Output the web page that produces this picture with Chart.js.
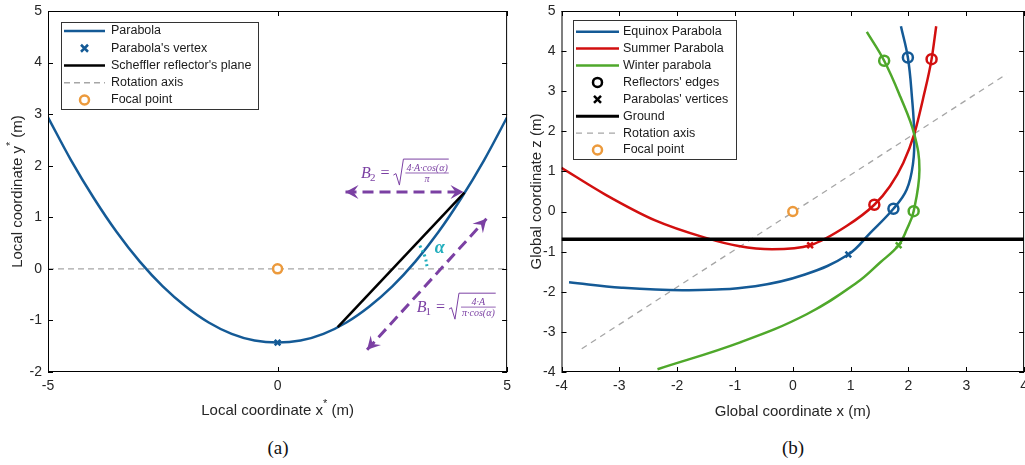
<!DOCTYPE html>
<html>
<head>
<meta charset="utf-8">
<script src="https://cdn.jsdelivr.net/npm/chart.js@4.4.1/dist/chart.umd.min.js"></script>
<style>
  html, body { margin: 0; padding: 0; background: #fff; }
  #wrap { position: relative; width: 1025px; height: 465px; overflow: hidden; }
  canvas { position: absolute; top: 0; }
  #chartA { left: 0; }
  #chartB { left: 512px; }
  .cap { position: absolute; top: 437px; line-height: 22px; font: 19px "Liberation Serif", serif; color: #111; transform: translateX(-50%); }
</style>
</head>
<body>
<div id="wrap">
  <canvas id="chartA" width="517" height="425"></canvas>
  <canvas id="chartB" width="522" height="425"></canvas>
  <div class="cap" style="left:278px">(a)</div>
  <div class="cap" style="left:793px">(b)</div>
</div>
<script>
// ---- panel (a): local frame ----
const parabolaX = [-5, -4.5, -4, -3.5, -3, -2.5, -2, -1.5, -1, -0.5, 0, 0.5, 1, 1.5, 2, 2.5, 3, 3.5, 4, 4.5, 5];
const parabolaY = [2.94, 2.11, 1.37, 0.71, 0.14, -0.34, -0.73, -1.04, -1.26, -1.39, -1.43, -1.39, -1.26, -1.04, -0.73, -0.34, 0.14, 0.71, 1.37, 2.11, 2.94];
const vertexA = [0, -1.43];
const focalA = [0, 0];
const planeX = [1.31, 4.07];
const planeY = [-1.13, 1.48];
const axisAX = [-5, 5];
const axisAY = [0, 0];
const b2ArrowX = [1.48, 4.05];
const b2ArrowY = [1.49, 1.49];
const b1ArrowX = [1.95, 4.55];
const b1ArrowY = [-1.57, 0.97];
const alphaArcX = [3.1, 3.21, 3.26];
const alphaArcY = [0.45, 0.24, 0.03];
const ticksAX = [-5, 0, 5];
const ticksAY = [-2, -1, 0, 1, 2, 3, 4, 5];

// ---- panel (b): global frame ----
const equinoxX = [-3.87, -2.96, -1.81, -0.65, 0.21, 0.96, 1.34, 1.74, 1.97, 2.08, 2.10, 2.06, 1.99, 1.87];
const equinoxZ = [-1.76, -1.90, -1.96, -1.86, -1.57, -1.07, -0.53, 0.07, 0.55, 1.21, 1.93, 2.86, 3.84, 4.62];
const summerX = [-4.0, -3.25, -2.38, -1.52, -0.94, -0.36, 0.30, 0.93, 1.41, 1.68, 1.91, 2.10, 2.26, 2.40, 2.48];
const summerZ = [1.09, 0.43, -0.22, -0.65, -0.86, -0.94, -0.84, -0.36, 0.17, 0.63, 1.21, 1.93, 2.86, 3.80, 4.62];
const winterX = [-2.34, -0.91, 0.24, 1.11, 1.51, 1.83, 1.97, 2.09, 2.19, 2.10, 1.86, 1.58, 1.28];
const winterZ = [-3.93, -3.26, -2.56, -1.77, -1.27, -0.84, -0.45, 0.01, 1.04, 1.93, 2.86, 3.76, 4.48];
const edgesEquinox = [[1.99, 3.84], [1.74, 0.07]];
const edgesSummer = [[2.40, 3.80], [1.41, 0.17]];
const edgesWinter = [[1.58, 3.76], [2.09, 0.01]];
const vertexEquinox = [0.96, -1.07];
const vertexSummer = [0.30, -0.84];
const vertexWinter = [1.83, -0.84];
const groundX = [-4, 4];
const groundZ = [-0.69, -0.69];
const axisBX = [-3.65, 3.7];
const axisBZ = [-3.42, 3.43];
const focalB = [0, 0];
const ticksBX = [-4, -3, -2, -1, 0, 1, 2, 3, 4];
const ticksBZ = [-4, -3, -2, -1, 0, 1, 2, 3, 4, 5];

const BLUE = '#145a96', RED = '#d20f0f', GREEN = '#4fa82b', ORANGE = '#ec9a3c';
const PURPLE = '#7b40a3', TEAL = '#21aebd', GRAY = '#a6a6a6', INK = '#262626';
const SANS = '"Liberation Sans", Arial, sans-serif';
const SERIF = '"Liberation Serif", serif';

function pts(xs, ys) { return xs.map((x, i) => ({ x: x, y: ys[i] })); }
function pt(p) { return [{ x: p[0], y: p[1] }]; }

function curve(data, color, width, extra) {
  return Object.assign({ data: data, showLine: true, borderColor: color, borderWidth: width, pointRadius: 0, tension: 0 }, extra || {});
}
function marker(data, color, style, radius, fill) {
  return { data: data, showLine: false, pointStyle: style, pointRadius: radius, pointBorderWidth: 2.5,
           pointBorderColor: color, pointBackgroundColor: fill || 'rgba(0,0,0,0)' };
}

// draw text made of parts, some as superscripts, centred at (cx, cy)
function drawRich(ctx, parts, cx, cy, size) {
  const big = size + 'px ' + SANS, small = Math.round(size * 0.7) + 'px ' + SANS;
  let w = 0;
  parts.forEach(p => { ctx.font = p[1] ? small : big; w += ctx.measureText(p[0]).width; });
  let x = cx - w / 2;
  ctx.textBaseline = 'middle';
  ctx.textAlign = 'left';
  parts.forEach(p => {
    ctx.font = p[1] ? small : big;
    ctx.fillText(p[0], x, p[1] ? cy - size * 0.5 : cy);
    x += ctx.measureText(p[0]).width;
  });
}

// axis box with inward ticks, axis titles and the legend
const framePlugin = {
  id: 'frame',
  afterDraw(chart, args, o) {
    const ctx = chart.ctx, a = chart.chartArea, sx = chart.scales.x, sy = chart.scales.y;
    ctx.save();
    ctx.strokeStyle = '#000';
    ctx.lineWidth = 1;
    ctx.strokeRect(a.left + 0.5, a.top + 0.5, a.right - a.left - 1, a.bottom - a.top - 1);
    ctx.beginPath();
    sx.ticks.forEach(t => {
      const p = Math.round(sx.getPixelForValue(t.value)) + 0.5;
      ctx.moveTo(p, a.bottom); ctx.lineTo(p, a.bottom - 5);
      ctx.moveTo(p, a.top); ctx.lineTo(p, a.top + 5);
    });
    sy.ticks.forEach(t => {
      const p = Math.round(sy.getPixelForValue(t.value)) + 0.5;
      ctx.moveTo(a.left, p); ctx.lineTo(a.left + 5, p);
      ctx.moveTo(a.right, p); ctx.lineTo(a.right - 5, p);
    });
    ctx.stroke();

    ctx.fillStyle = INK;
    drawRich(ctx, o.xTitle, (a.left + a.right) / 2, o.xTitleY, 15);
    ctx.save();
    ctx.translate(o.yTitleX, (a.top + a.bottom) / 2);
    ctx.rotate(-Math.PI / 2);
    drawRich(ctx, o.yTitle, 0, 0, 15);
    ctx.restore();

    const L = o.legend;
    ctx.fillStyle = '#fff';
    ctx.fillRect(L.left, L.top, L.right - L.left, L.bottom - L.top);
    ctx.strokeStyle = '#333';
    ctx.lineWidth = 1;
    ctx.strokeRect(L.left + 0.5, L.top + 0.5, L.right - L.left, L.bottom - L.top);
    L.items.forEach((it, i) => {
      const yy = L.rowTop + i * L.rowGap, mid = (L.sx0 + L.sx1) / 2;
      ctx.strokeStyle = it.color;
      if (it.kind === 'line') {
        ctx.lineWidth = it.width;
        ctx.setLineDash(it.dash || []);
        ctx.beginPath(); ctx.moveTo(L.sx0, yy); ctx.lineTo(L.sx1, yy); ctx.stroke();
        ctx.setLineDash([]);
      } else if (it.kind === 'cross') {
        ctx.lineWidth = 2.5;
        ctx.beginPath();
        ctx.moveTo(mid - 3.5, yy - 3.5); ctx.lineTo(mid + 3.5, yy + 3.5);
        ctx.moveTo(mid + 3.5, yy - 3.5); ctx.lineTo(mid - 3.5, yy + 3.5);
        ctx.stroke();
      } else {
        ctx.lineWidth = 2.5;
        ctx.beginPath(); ctx.arc(mid, yy, 4.5, 0, Math.PI * 2); ctx.stroke();
      }
      ctx.fillStyle = '#1a1a1a';
      ctx.font = '12.5px ' + SANS;
      ctx.textAlign = 'left';
      ctx.textBaseline = 'middle';
      ctx.fillText(it.label, L.tx, yy);
    });
    ctx.restore();
  }
};

function arrowHead(ctx, tx, ty, fx, fy) {
  const ang = Math.atan2(ty - fy, tx - fx), c = Math.cos(ang), s = Math.sin(ang);
  const L = 13, W = 7, N = 8;
  ctx.beginPath();
  ctx.moveTo(tx, ty);
  ctx.lineTo(tx - L * c - W * s, ty - L * s + W * c);
  ctx.lineTo(tx - N * c, ty - N * s);
  ctx.lineTo(tx - L * c + W * s, ty - L * s - W * c);
  ctx.closePath();
  ctx.fill();
}

function drawRadical(ctx, x, base, sub, num, den) {
  ctx.textAlign = 'left';
  ctx.textBaseline = 'alphabetic';
  ctx.font = 'italic 16px ' + SERIF;
  ctx.fillText('B', x, base);
  let cx = x + ctx.measureText('B').width;
  ctx.font = '11px ' + SERIF;
  ctx.fillText(sub, cx - 1, base + 3);
  cx += ctx.measureText(sub).width + 4;
  ctx.font = '16px ' + SERIF;
  ctx.fillText('=', cx, base);
  cx += ctx.measureText('=').width + 4;
  ctx.font = 'italic 10px ' + SERIF;
  const w = Math.max(ctx.measureText(num).width, ctx.measureText(den).width) + 2;
  const top = base - 19, bot = base + 7;
  ctx.lineWidth = 1;
  ctx.beginPath();
  ctx.moveTo(cx, base - 3); ctx.lineTo(cx + 2.5, base - 4.5);
  ctx.lineTo(cx + 6, bot); ctx.lineTo(cx + 10, top); ctx.lineTo(cx + 12 + w, top);
  ctx.stroke();
  const fx = cx + 12;
  ctx.textAlign = 'center';
  ctx.fillText(num, fx + w / 2, base - 7.5);
  ctx.fillRect(fx, base - 5.5, w, 0.8);
  ctx.fillText(den, fx + w / 2, base + 4);
}

// arrowheads, angle mark and the two width formulas of panel (a)
const notesPlugin = {
  id: 'notes',
  afterDatasetsDraw(chart) {
    const ctx = chart.ctx, sx = chart.scales.x, sy = chart.scales.y;
    const px = v => sx.getPixelForValue(v), py = v => sy.getPixelForValue(v);
    ctx.save();
    ctx.fillStyle = PURPLE;
    ctx.strokeStyle = PURPLE;
    [[b2ArrowX, b2ArrowY], [b1ArrowX, b1ArrowY]].forEach(([xs, ys]) => {
      arrowHead(ctx, px(xs[0]), py(ys[0]), px(xs[1]), py(ys[1]));
      arrowHead(ctx, px(xs[1]), py(ys[1]), px(xs[0]), py(ys[0]));
    });
    drawRadical(ctx, px(1.82), py(1.76), '2', '4·A·cos(α)', 'π');
    drawRadical(ctx, px(3.03), py(-0.84), '1', '4·A', 'π·cos(α)');
    ctx.fillStyle = TEAL;
    ctx.font = 'italic bold 18px ' + SERIF;
    ctx.textAlign = 'center';
    ctx.textBaseline = 'middle';
    ctx.fillText('α', px(3.53), py(0.4));
    ctx.restore();
  }
};

function stack(list) {
  // first entry is drawn at the bottom
  return list.map((d, i) => Object.assign(d, { order: list.length - i }));
}

function axes(xMin, xMax, xStep, yMin, yMax, yStep, yWidth) {
  const tickOpts = { font: { family: SANS, size: 14 }, color: INK };
  return {
    x: { type: 'linear', min: xMin, max: xMax,
         ticks: Object.assign({ stepSize: xStep, padding: 6 }, tickOpts),
         grid: { display: false, drawTicks: false }, border: { display: false },
         afterFit: s => { s.height = 53; } },
    y: { type: 'linear', min: yMin, max: yMax,
         ticks: Object.assign({ stepSize: yStep, padding: 6 }, tickOpts),
         grid: { display: false, drawTicks: false }, border: { display: false },
         afterFit: s => { s.width = yWidth; s.paddingTop = 0; s.paddingBottom = 0; } }
  };
}

// the last x tick label keeps ~10px free on the right, so the canvases are a bit wider
new Chart(document.getElementById('chartA'), {
  type: 'scatter',
  data: { datasets: stack([
    curve(pts(axisAX, axisAY), GRAY, 1.3, { borderDash: [6, 4] }),
    curve(pts(parabolaX, parabolaY), BLUE, 2.5, { tension: 0.4 }),
    curve(pts(planeX, planeY), '#000', 2.5),
    curve(pts(b2ArrowX, b2ArrowY), PURPLE, 3, { borderDash: [11, 6] }),
    curve(pts(b1ArrowX, b1ArrowY), PURPLE, 3, { borderDash: [11, 6] }),
    curve(pts(alphaArcX, alphaArcY), TEAL, 3, { borderDash: [2, 3], tension: 0.4 }),
    marker(pt(vertexA), BLUE, 'crossRot', 4),
    marker(pt(focalA), ORANGE, 'circle', 4.5, '#fff')
  ]) },
  options: {
    responsive: false, animation: false, devicePixelRatio: 1,
    layout: { padding: { top: 11, right: 0, left: 0, bottom: 0 } },
    scales: axes(ticksAX[0], ticksAX[ticksAX.length - 1], 5, ticksAY[0], ticksAY[ticksAY.length - 1], 1, 48),
    plugins: {
      legend: { display: false }, tooltip: { enabled: false },
      frame: {
        xTitle: [['Local coordinate x', false], ['*', true], [' (m)', false]], xTitleY: 411,
        yTitle: [['Local coordinate y', false], ['*', true], [' (m)', false]], yTitleX: 18,
        legend: { left: 61, top: 22, right: 258, bottom: 109, rowTop: 31, rowGap: 17.25, sx0: 64, sx1: 105, tx: 111,
          items: [
            { label: 'Parabola', kind: 'line', color: BLUE, width: 2.5 },
            { label: "Parabola's vertex", kind: 'cross', color: BLUE },
            { label: "Scheffler reflector's plane", kind: 'line', color: '#000', width: 2.5 },
            { label: 'Rotation axis', kind: 'line', color: GRAY, width: 1.3, dash: [6, 4] },
            { label: 'Focal point', kind: 'circle', color: ORANGE }
          ] }
      }
    }
  },
  plugins: [notesPlugin, framePlugin]
});

new Chart(document.getElementById('chartB'), {
  type: 'scatter',
  data: { datasets: stack([
    curve(pts(axisBX, axisBZ), GRAY, 1.3, { borderDash: [6, 5] }),
    curve(pts(equinoxX, equinoxZ), BLUE, 2.5, { tension: 0.4 }),
    curve(pts(summerX, summerZ), RED, 2.5, { cubicInterpolationMode: 'monotone' }),
    curve(pts(winterX, winterZ), GREEN, 2.5, { tension: 0.4 }),
    curve(pts(groundX, groundZ), '#000', 3.5),
    marker(edgesEquinox.map(p => ({ x: p[0], y: p[1] })), BLUE, 'circle', 5),
    marker(edgesSummer.map(p => ({ x: p[0], y: p[1] })), RED, 'circle', 5),
    marker(edgesWinter.map(p => ({ x: p[0], y: p[1] })), GREEN, 'circle', 5),
    marker(pt(vertexEquinox), BLUE, 'crossRot', 4),
    marker(pt(vertexSummer), RED, 'crossRot', 4),
    marker(pt(vertexWinter), GREEN, 'crossRot', 4),
    marker(pt(focalB), ORANGE, 'circle', 4.5, '#fff')
  ]) },
  options: {
    responsive: false, animation: false, devicePixelRatio: 1,
    layout: { padding: { top: 11, right: 0, left: 0, bottom: 0 } },
    scales: axes(ticksBX[0], ticksBX[ticksBX.length - 1], 1, ticksBZ[0], ticksBZ[ticksBZ.length - 1], 1, 49.5),
    plugins: {
      legend: { display: false }, tooltip: { enabled: false },
      frame: {
        xTitle: [['Global coordinate x (m)', false]], xTitleY: 412,
        yTitle: [['Global coordinate z (m)', false]], yTitleX: 25,
        legend: { left: 61, top: 20, right: 224, bottom: 159, rowTop: 31.7, rowGap: 16.9, sx0: 64, sx1: 107, tx: 111,
          items: [
            { label: 'Equinox Parabola', kind: 'line', color: BLUE, width: 2.5 },
            { label: 'Summer Parabola', kind: 'line', color: RED, width: 2.5 },
            { label: 'Winter parabola', kind: 'line', color: GREEN, width: 2.5 },
            { label: "Reflectors' edges", kind: 'circle', color: '#000' },
            { label: "Parabolas' vertices", kind: 'cross', color: '#000' },
            { label: 'Ground', kind: 'line', color: '#000', width: 3 },
            { label: 'Rotation axis', kind: 'line', color: GRAY, width: 1.3, dash: [6, 5] },
            { label: 'Focal point', kind: 'circle', color: ORANGE }
          ] }
      }
    }
  },
  plugins: [framePlugin]
});
</script>
</body>
</html>
